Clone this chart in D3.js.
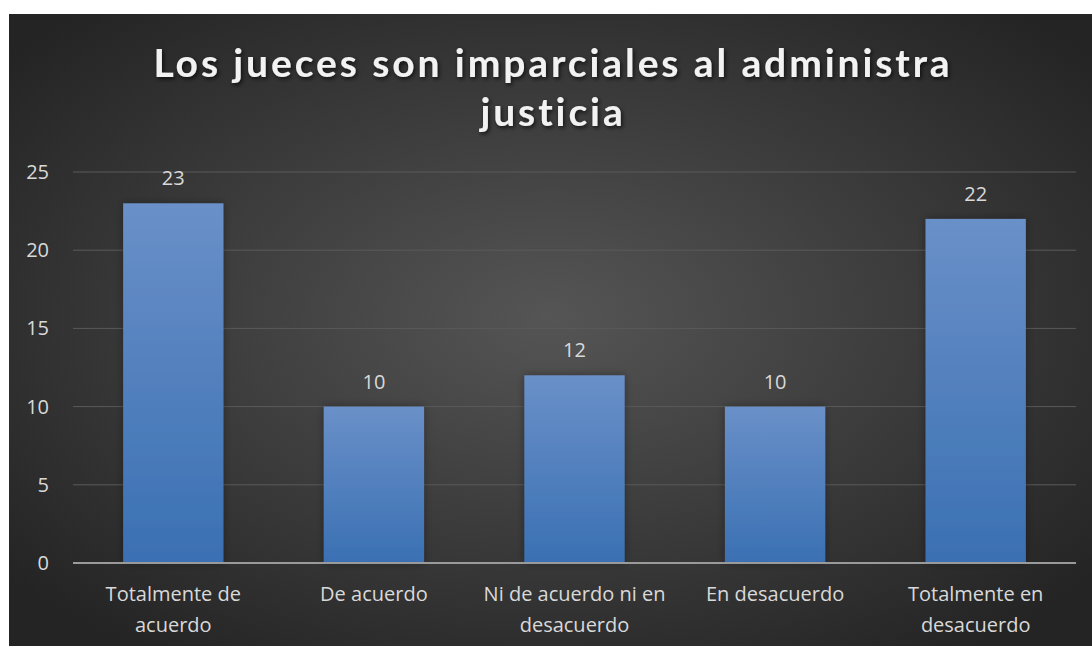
<!DOCTYPE html>
<html lang="en">
<head>
<meta charset="utf-8" />
<title>Los jueces son imparciales</title>
<script src="https://d3js.org/d3.v7.min.js"></script>
<style>
  body { margin: 0; background: #fff; }
  svg { display: block; }
</style>
</head>
<body>
<script>
  // data
  var categories = [
    ["Totalmente de", "acuerdo"],
    ["De acuerdo"],
    ["Ni de acuerdo ni en", "desacuerdo"],
    ["En desacuerdo"],
    ["Totalmente en", "desacuerdo"]
  ];
  var values = [23, 10, 12, 10, 22];
  var yTicks = [0, 5, 10, 15, 20, 25];
  var titleLines = ["Los jueces son imparciales al administra", "justicia"];

  var w = 1092, h = 646;
  var plotLeft = 73, plotRight = 1076, plotTop = 172, plotBottom = 563;
  var font = "'Open Sans', Lato, sans-serif";

  var svg = d3.select("body").append("svg")
      .attr("width", w)
      .attr("height", h);

  var defs = svg.append("defs");

  // dark radial background
  var bg = defs.append("radialGradient").attr("id", "bg")
      .attr("cx", "50%").attr("cy", "48%").attr("r", "65%");
  bg.append("stop").attr("offset", "0%").attr("stop-color", "#555555");
  bg.append("stop").attr("offset", "100%").attr("stop-color", "#242424");

  // bar gradient, light at the top
  var bar = defs.append("linearGradient").attr("id", "bar")
      .attr("x1", 0).attr("y1", 0).attr("x2", 0).attr("y2", 1);
  bar.append("stop").attr("offset", "0%").attr("stop-color", "#6a90c8");
  bar.append("stop").attr("offset", "100%").attr("stop-color", "#3a70b3");

  var shadow = defs.append("filter").attr("id", "shadow")
      .attr("x", "-10%").attr("y", "-10%").attr("width", "120%").attr("height", "130%");
  shadow.append("feDropShadow").attr("dx", 1.5).attr("dy", 2)
      .attr("stdDeviation", 2).attr("flood-color", "#000").attr("flood-opacity", 0.7);

  var barShadow = defs.append("filter").attr("id", "barShadow")
      .attr("x", "-20%").attr("y", "-5%").attr("width", "140%").attr("height", "110%");
  barShadow.append("feDropShadow").attr("dx", 0).attr("dy", 0)
      .attr("stdDeviation", 4).attr("flood-color", "#000").attr("flood-opacity", 0.35);

  svg.append("rect")
      .attr("x", 9).attr("y", 14)
      .attr("width", w - 9).attr("height", h - 14)
      .attr("fill", "url(#bg)");

  // title
  svg.append("g").selectAll("text")
      .data(titleLines)
      .enter().append("text")
      .attr("x", 553)
      .attr("y", function (d, i) { return 77 + i * 49; })
      .attr("text-anchor", "middle")
      .attr("font-family", "Lato, sans-serif")
      .attr("font-weight", "bold")
      .attr("font-size", "39px")
      .attr("letter-spacing", "2.9px")
      .attr("fill", "#f2f2f2")
      .attr("filter", "url(#shadow)")
      .text(function (d) { return d; });

  var xScale = d3.scaleBand()
      .domain(d3.range(values.length))
      .range([plotLeft, plotRight])
      .paddingInner(0.5)
      .paddingOuter(0.25);

  var yScale = d3.scaleLinear()
      .domain([0, 25])
      .range([plotBottom, plotTop]);

  // gridlines
  svg.append("g").selectAll("line")
      .data(yTicks.slice(1))
      .enter().append("line")
      .attr("x1", plotLeft).attr("x2", plotRight)
      .attr("y1", function (d) { return yScale(d); })
      .attr("y2", function (d) { return yScale(d); })
      .attr("stroke", "#5a5a5a")
      .attr("stroke-width", 1);

  // y axis labels
  var yAxis = d3.axisLeft(yScale).tickValues(yTicks).tickSize(0).tickPadding(0);
  var gy = svg.append("g")
      .attr("transform", "translate(49,0)")
      .call(yAxis);
  gy.select(".domain").remove();
  gy.selectAll("text")
      .attr("font-family", font)
      .attr("font-size", "20px")
      .attr("fill", "#d9d9d9");

  // bars
  svg.append("g").selectAll("rect")
      .data(values)
      .enter().append("rect")
      .attr("x", function (d, i) { return xScale(i); })
      .attr("y", function (d) { return yScale(d); })
      .attr("width", xScale.bandwidth())
      .attr("height", function (d) { return plotBottom - yScale(d); })
      .attr("fill", "url(#bar)")
      .attr("filter", "url(#barShadow)");

  // value labels
  svg.append("g").selectAll("text")
      .data(values)
      .enter().append("text")
      .attr("x", function (d, i) { return xScale(i) + xScale.bandwidth() / 2; })
      .attr("y", function (d) { return yScale(d) - 18; })
      .attr("text-anchor", "middle")
      .attr("font-family", font)
      .attr("font-size", "20px")
      .attr("fill", "#d9d9d9")
      .text(function (d) { return d; });

  // baseline
  svg.append("line")
      .attr("x1", plotLeft).attr("x2", plotRight)
      .attr("y1", plotBottom).attr("y2", plotBottom)
      .attr("stroke", "#9a9a9a")
      .attr("stroke-width", 2);

  // category labels
  var cats = svg.append("g").selectAll("text")
      .data(categories)
      .enter().append("text")
      .attr("text-anchor", "middle")
      .attr("font-family", font)
      .attr("font-size", "20px")
      .attr("fill", "#d9d9d9");
  cats.selectAll("tspan")
      .data(function (d, i) { return d.map(function (t) { return { t: t, i: i }; }); })
      .enter().append("tspan")
      .attr("x", function (d) { return xScale(d.i) + xScale.bandwidth() / 2; })
      .attr("y", function (d, j) { return 601 + j * 31; })
      .text(function (d) { return d.t; });
</script>
</body>
</html>
